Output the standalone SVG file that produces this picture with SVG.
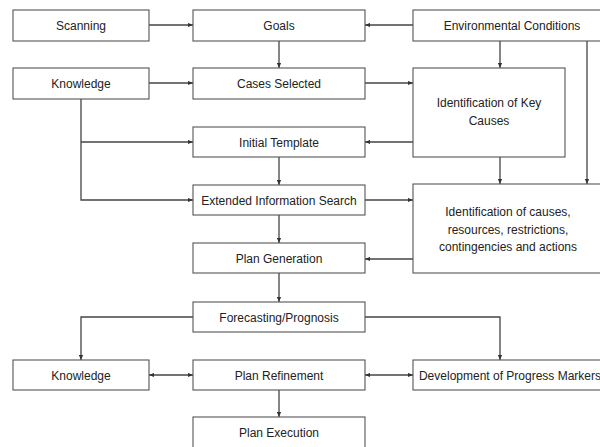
<svg xmlns="http://www.w3.org/2000/svg" width="600" height="447" viewBox="0 0 600 447">
<style>
.box{fill:#fff;stroke:#555;stroke-width:1.1}
.t{font-family:"Liberation Sans",Arial,sans-serif;font-size:12px;fill:#222;text-anchor:middle}
.c{fill:none;stroke:#444;stroke-width:1.3}
</style>
<defs>
<marker id="a" viewBox="0 0 6 6" refX="6" refY="3" markerWidth="5" markerHeight="5" orient="auto" markerUnits="userSpaceOnUse">
<path d="M0,0.5 L6,3 L0,5.5 Z" fill="#333"/>
</marker>
<marker id="s" viewBox="0 0 6 6" refX="0" refY="3" markerWidth="5" markerHeight="5" orient="auto" markerUnits="userSpaceOnUse">
<path d="M6,0.5 L0,3 L6,5.5 Z" fill="#333"/>
</marker>
</defs>
<rect width="600" height="447" fill="#fff"/>
<g id="connectors">
<path class="c" d="M149,25 H193" marker-end="url(#a)"/>
<path class="c" d="M413,25 H365" marker-end="url(#a)"/>
<path class="c" d="M279,41 V68" marker-end="url(#a)"/>
<path class="c" d="M149,83 H193" marker-end="url(#a)"/>
<path class="c" d="M365,83 H413" marker-end="url(#a)"/>
<path class="c" d="M500,41 V68" marker-end="url(#a)"/>
<path class="c" d="M587,41 V184" marker-end="url(#a)"/>
<path class="c" d="M413,142 H365" marker-end="url(#a)"/>
<path class="c" d="M81,99 V200 H193" marker-end="url(#a)"/>
<path class="c" d="M81,142 H193" marker-end="url(#a)"/>
<path class="c" d="M279,157 V185" marker-end="url(#a)"/>
<path class="c" d="M500,157 V184" marker-end="url(#a)"/>
<path class="c" d="M365,200 H413" marker-end="url(#a)"/>
<path class="c" d="M413,259 H365" marker-end="url(#a)"/>
<path class="c" d="M279,215 V243" marker-end="url(#a)"/>
<path class="c" d="M279,273 V302" marker-end="url(#a)"/>
<path class="c" d="M193,317 H81 V360" marker-end="url(#a)"/>
<path class="c" d="M365,317 H500 V360" marker-end="url(#a)"/>
<path class="c" d="M149,375 H193" marker-start="url(#s)" marker-end="url(#a)"/>
<path class="c" d="M365,375 H413" marker-start="url(#s)" marker-end="url(#a)"/>
<path class="c" d="M279,390 V417" marker-end="url(#a)"/>
</g>
<g id="scanning"><rect class="box" x="13" y="10" width="136" height="31"/><text class="t" x="81" y="29.5">Scanning</text></g>
<g id="goals"><rect class="box" x="193" y="10" width="172" height="31"/><text class="t" x="279" y="29.5">Goals</text></g>
<g id="env"><rect class="box" x="413" y="10" width="198" height="31"/><text class="t" x="512" y="29.5">Environmental Conditions</text></g>
<g id="knowledge1"><rect class="box" x="13" y="68" width="136" height="31"/><text class="t" x="81" y="87.5">Knowledge</text></g>
<g id="cases"><rect class="box" x="193" y="68" width="172" height="31"/><text class="t" x="279" y="87.5">Cases Selected</text></g>
<g id="keycauses"><rect class="box" x="413" y="68" width="152" height="89"/><text class="t" x="489" y="107">Identification of Key</text><text class="t" x="489" y="125">Causes</text></g>
<g id="template"><rect class="box" x="193" y="127" width="172" height="30"/><text class="t" x="279" y="146.5">Initial Template</text></g>
<g id="extended"><rect class="box" x="193" y="185" width="172" height="30"/><text class="t" x="279" y="204.5">Extended Information Search</text></g>
<g id="identcauses"><rect class="box" x="413" y="184" width="191" height="89"/><text class="t" x="508" y="216">Identification of causes,</text><text class="t" x="508" y="233.5">resources, restrictions,</text><text class="t" x="508" y="251">contingencies and actions</text></g>
<g id="plangen"><rect class="box" x="193" y="243" width="172" height="30"/><text class="t" x="279" y="262.5">Plan Generation</text></g>
<g id="forecast"><rect class="box" x="193" y="302" width="172" height="30"/><text class="t" x="279" y="321.5">Forecasting/Prognosis</text></g>
<g id="knowledge2"><rect class="box" x="13" y="360" width="136" height="30"/><text class="t" x="81" y="379.5">Knowledge</text></g>
<g id="refine"><rect class="box" x="193" y="360" width="172" height="30"/><text class="t" x="279" y="379.5">Plan Refinement</text></g>
<g id="markers"><rect class="box" x="413" y="360" width="196" height="30"/><text class="t" x="510" y="379.5">Development of Progress Markers</text></g>
<g id="execution"><rect class="box" x="193" y="417" width="172" height="40"/><text class="t" x="279" y="437">Plan Execution</text></g>
</svg>
